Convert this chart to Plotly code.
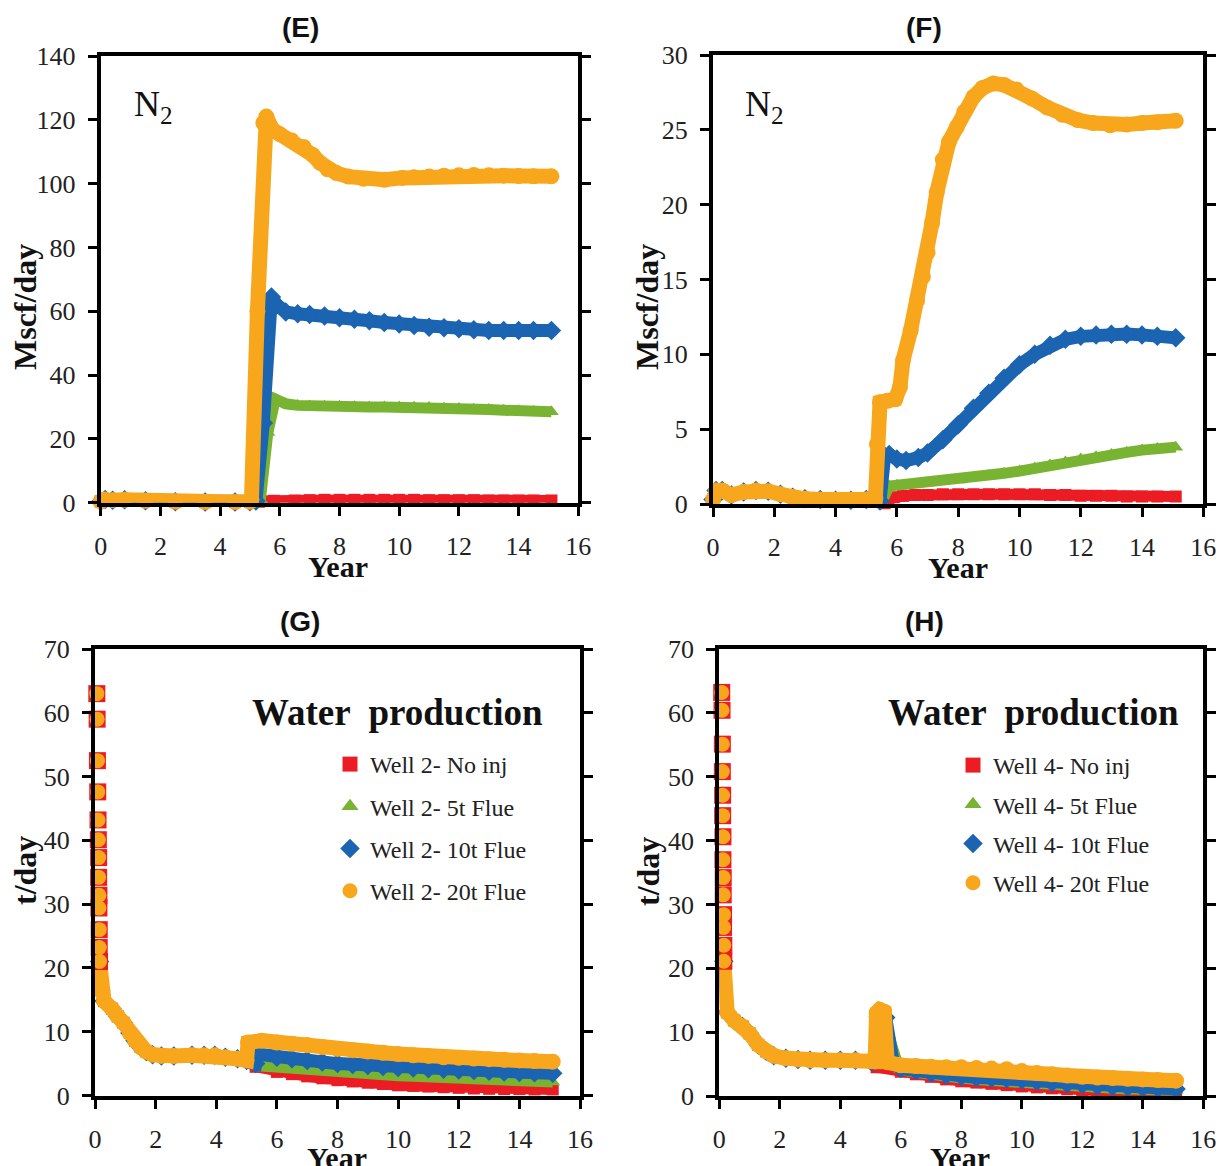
import plotly.graph_objects as go

# ---------------------------------------------------------------- data
# (E) N2 production rate, Mscf/day
E_early_t = [0.0, 0.15, 0.4, 0.8, 1.5, 2.5, 3.5, 4.5, 5.0]
E_early_q = [0.4, 1.0, 0.8, 0.9, 0.6, 0.3, 0.2, 0.2, 0.3]
E_red_t = [5.3, 5.8, 6.5, 7, 7.5, 8, 8.5, 9, 9.5, 10, 10.5, 11, 11.5, 12, 12.5, 13, 13.5, 14, 14.5, 15.1]
E_red_q = [0.3, 0.6, 0.7, 0.8, 0.9, 0.9, 0.9, 0.9, 0.9, 0.9, 0.9, 0.8, 0.8, 0.8, 0.8, 0.7, 0.7, 0.7, 0.7, 0.7]
E_green_t = [5.35, 5.6, 5.85, 6.2, 6.6, 7, 7.5, 8, 8.5, 9, 9.5, 10, 10.5, 11, 11.5, 12, 12.5, 13, 13.5, 14, 14.5, 15.1]
E_green_q = [1, 22, 32.5, 31.0, 30.5, 30.3, 30.2, 30.2, 30.1, 30.0, 30.0, 30.0, 29.9, 29.8, 29.6, 29.5, 29.3, 29.2, 29.0, 28.8, 28.6, 28.5]
E_blue_t = [5.2, 5.45, 5.62, 5.72, 5.9, 6.2, 6.6, 7, 7.5, 8, 8.5, 9, 9.5, 10, 10.5, 11, 11.5, 12, 12.5, 13, 13.5, 14, 14.5, 15.1]
E_blue_q = [0.5, 25, 62, 64.5, 62, 59.8, 59.2, 59.0, 58.5, 58.0, 57.5, 57.0, 56.5, 56.0, 55.5, 55.0, 54.8, 54.5, 54.2, 54.0, 54.0, 54.0, 54.0, 54.0]
E_orange_t = [5.05, 5.25, 5.45, 5.55, 5.75, 6.0, 6.4, 6.8, 7.1, 7.35, 7.6, 7.9, 8.3, 8.8, 9.5, 10.1, 10.5, 11, 11.5, 12, 12.5, 13, 13.5, 14, 14.5, 15.1]
E_orange_q = [1, 60, 119, 121, 117, 115.5, 113.5, 111.5, 109, 106.5, 104.5, 103.3, 102.2, 101.5, 101.2, 101.8, 102.0, 102.2, 102.5, 102.6, 102.7, 102.6, 102.5, 102.4, 102.3, 102.3]

# (F) N2 production rate, Mscf/day
F_early_t = [0.0, 0.1, 0.3, 0.6, 1.0, 1.4, 1.8, 2.2, 2.6, 3.0, 3.5, 4.0, 4.5, 5.0, 5.3]
F_early_q = [0.3, 0.9, 0.9, 0.6, 0.8, 0.9, 0.85, 0.65, 0.45, 0.35, 0.3, 0.25, 0.25, 0.3, 0.4]
F_red_t = [5.6, 5.9, 6.2, 6.6, 7, 7.5, 8, 8.5, 9, 9.5, 10, 10.5, 11, 11.5, 12, 12.5, 13, 13.5, 14, 14.5, 15.1]
F_red_q = [0.05, 0.45, 0.55, 0.6, 0.6, 0.65, 0.65, 0.65, 0.65, 0.65, 0.65, 0.65, 0.6, 0.6, 0.55, 0.55, 0.55, 0.5, 0.5, 0.5, 0.5]
F_green_t = [5.5, 5.75, 6.0, 6.5, 7, 7.5, 8, 8.5, 9, 9.5, 10, 10.5, 11, 11.5, 12, 12.5, 13, 13.5, 14, 14.5, 15.1]
F_green_q = [0.1, 1.2, 1.25, 1.3, 1.4, 1.5, 1.6, 1.75, 1.9, 2.05, 2.2, 2.4, 2.6, 2.8, 3.0, 3.15, 3.3, 3.45, 3.6, 3.7, 3.8]
F_blue_t = [5.45, 5.6, 5.75, 6.0, 6.3, 6.7, 7.0, 7.5, 8.0, 8.5, 9.0, 9.5, 10.0, 10.5, 11.0, 11.5, 12.0, 12.5, 13.0, 13.5, 14.0, 14.5, 15.1]
F_blue_q = [0.2, 3.2, 3.3, 3.0, 2.9, 3.1, 3.4, 4.3, 5.3, 6.4, 7.4, 8.4, 9.3, 10.0, 10.6, 11.0, 11.2, 11.3, 11.35, 11.35, 11.3, 11.2, 11.1]
F_orange_t = [5.35, 5.45, 5.7, 5.95, 6.1, 6.2, 6.45, 6.66, 6.85, 7.0, 7.15, 7.3, 7.5, 7.7, 7.96, 8.2, 8.5, 8.8, 9.15, 9.5, 9.9, 10.4, 10.9, 11.4, 11.9, 12.4, 12.96, 13.5, 14.0, 14.5, 15.1]
F_orange_q = [4.0, 6.8, 6.9, 7.0, 7.8, 9.6, 11.6, 13.6, 15.2, 16.8, 18.8, 20.8, 23.0, 24.2, 25.2, 26.2, 27.2, 27.8, 28.1, 28.0, 27.7, 27.1, 26.5, 26.0, 25.65, 25.45, 25.3, 25.35, 25.45, 25.5, 25.6]

# (G) water production, Well 2, t/day
G_first_t = [0.06, 0.07, 0.08, 0.09, 0.10, 0.11, 0.12, 0.12, 0.13, 0.13, 0.14, 0.14, 0.15]
G_first_q = [63.0, 59.0, 52.5, 47.6, 43.2, 40.1, 37.3, 34.2, 31.4, 29.4, 26.0, 23.2, 21.0]
G_early_t = [0.15, 0.19, 0.3, 0.56, 0.75, 0.94, 1.15, 1.32, 1.5, 1.69, 1.9, 2.19, 2.6, 3.2, 3.6, 3.95, 4.3, 4.7, 5.0]
G_early_q = [21.0, 16.5, 14.8, 13.6, 12.4, 11.4, 9.8, 8.6, 7.6, 6.9, 6.4, 6.2, 6.2, 6.3, 6.3, 6.3, 6.0, 5.75, 5.5]
G_red_t = [5.3, 6.0, 6.5, 7.0, 7.5, 8.0, 8.5, 9.0, 9.5, 10.0, 10.5, 11.0, 11.5, 12.0, 12.5, 13.0, 13.5, 14.0, 14.5, 15.1]
G_red_q = [4.5, 3.7, 3.35, 3.0, 2.7, 2.4, 2.2, 2.0, 1.8, 1.6, 1.5, 1.4, 1.3, 1.2, 1.1, 1.05, 1.0, 1.0, 0.95, 0.95]
G_green_t = [5.3, 6.0, 6.5, 7.0, 7.5, 8.0, 8.5, 9.0, 9.5, 10.0, 10.5, 11.0, 11.5, 12.0, 12.5, 13.0, 13.5, 14.0, 14.5, 15.1]
G_green_q = [4.7, 4.4, 4.2, 4.0, 3.8, 3.6, 3.45, 3.3, 3.2, 3.1, 3.0, 2.9, 2.8, 2.75, 2.6, 2.5, 2.4, 2.3, 2.2, 2.1]
G_blue_t = [5.3, 5.35, 6.0, 6.5, 7.0, 7.5, 8.0, 8.5, 9.0, 9.5, 10.0, 10.5, 11.0, 11.5, 12.0, 12.5, 13.0, 13.5, 14.0, 14.5, 15.1]
G_blue_q = [5.0, 6.5, 6.0, 5.75, 5.5, 5.25, 5.0, 4.85, 4.7, 4.55, 4.4, 4.3, 4.2, 4.1, 4.0, 3.9, 3.8, 3.7, 3.6, 3.55, 3.5]
G_orange_t = [5.05, 5.5, 6.0, 6.5, 7.0, 7.5, 8.0, 8.5, 9.0, 9.5, 10.0, 10.5, 11.0, 11.5, 12.0, 12.5, 13.0, 13.5, 14.0, 14.5, 15.1]
G_orange_q = [8.3, 8.6, 8.3, 8.1, 7.9, 7.6, 7.3, 7.1, 6.9, 6.7, 6.5, 6.3, 6.2, 6.0, 5.9, 5.8, 5.7, 5.6, 5.5, 5.4, 5.3]

# (H) water production, Well 4, t/day
H_first_t = [0.08, 0.09, 0.10, 0.10, 0.11, 0.11, 0.12, 0.12, 0.13, 0.13, 0.14, 0.14, 0.15, 0.15]
H_first_q = [63.2, 60.4, 55.1, 50.8, 47.1, 43.9, 40.6, 37.0, 34.2, 31.5, 28.4, 26.4, 23.6, 21.1]
H_early_t = [0.15, 0.26, 0.5, 0.77, 1.0, 1.29, 1.55, 1.8, 2.2, 2.6, 3.0, 3.5, 4.0, 4.5, 5.0, 5.15]
H_early_q = [21.1, 13.1, 11.8, 10.9, 9.8, 8.0, 7.0, 6.3, 5.9, 5.7, 5.6, 5.6, 5.6, 5.6, 5.5, 5.4]
H_red_t = [5.2, 6.0, 6.5, 7.0, 7.5, 8.0, 8.5, 9.0, 9.5, 10.0, 10.5, 11.0, 11.5, 12.0, 12.5, 13.0, 13.5, 14.0, 14.5, 15.1]
H_red_q = [4.5, 3.8, 3.4, 3.0, 2.6, 2.3, 2.1, 1.9, 1.7, 1.5, 1.35, 1.2, 1.05, 0.9, 0.75, 0.6, 0.5, 0.4, 0.35, 0.3]
H_green_t = [5.3, 5.6, 5.9, 6.0, 6.5, 7.0, 7.5, 8.0, 8.5, 9.0, 9.5, 10.0, 10.5, 11.0, 11.5, 12.0, 12.5, 13.0, 13.5, 14.0, 14.5, 15.1]
H_green_q = [10.0, 9.5, 4.9, 4.1, 3.7, 3.3, 3.0, 2.8, 2.6, 2.4, 2.2, 2.0, 1.85, 1.7, 1.55, 1.4, 1.3, 1.2, 1.1, 1.0, 0.95, 0.9]
H_blue_t = [5.25, 5.5, 5.75, 6.0, 6.5, 7.0, 7.5, 8.0, 8.5, 9.0, 9.5, 10.0, 10.5, 11.0, 11.5, 12.0, 12.5, 13.0, 13.5, 14.0, 14.5, 15.1]
H_blue_q = [12.5, 12.3, 5.2, 4.3, 4.0, 3.6, 3.3, 3.1, 2.9, 2.8, 2.7, 2.5, 2.3, 2.1, 1.9, 1.8, 1.6, 1.5, 1.4, 1.3, 1.2, 1.1]
H_orange_t = [5.2, 5.3, 5.45, 5.55, 6.0, 6.5, 7.0, 7.5, 8.0, 8.5, 9.0, 9.5, 10.0, 10.5, 11.0, 11.5, 12.0, 12.5, 13.0, 13.5, 14.0, 14.5, 15.1]
H_orange_q = [13.0, 13.5, 13.2, 5.3, 4.8, 4.7, 4.6, 4.5, 4.5, 4.4, 4.3, 4.2, 3.9, 3.6, 3.4, 3.2, 3.0, 2.9, 2.8, 2.7, 2.6, 2.5, 2.4]

case_names = ["No inj", "5t Flue", "10t Flue", "20t Flue"]
year_ticks = [0, 2, 4, 6, 8, 10, 12, 14, 16]

# ---------------------------------------------------------------- styling
W, H = 1221, 1166
COL = {"red": "#EC1C24", "green": "#78B432", "blue": "#1A64B2", "orange": "#F8A71C"}
SYM = {"red": "square", "green": "triangle-up", "blue": "diamond", "orange": "circle"}
MSIZE = {"red": 12, "green": 13, "blue": 15, "orange": 16}
LW = {"red": 11, "green": 11, "blue": 13, "orange": 15}
SERIF = "Liberation Serif"
SANS = "Liberation Sans"


def px(x):
    return x / W


def py(y):
    return 1 - y / H


fig = go.Figure()


def band(t, q, key, xa, ya):
    fig.add_trace(go.Scatter(
        x=t, y=q, xaxis=xa, yaxis=ya, mode="lines+markers",
        line=dict(color=COL[key], width=LW[key]),
        marker=dict(symbol=SYM[key], size=MSIZE[key], color=COL[key], line=dict(width=0)),
        cliponaxis=False, showlegend=False, hoverinfo="skip"))


def dots(t, q, key, xa, ya, size):
    fig.add_trace(go.Scatter(
        x=t, y=q, xaxis=xa, yaxis=ya, mode="markers",
        marker=dict(symbol=SYM[key], size=size, color=COL[key], line=dict(width=0)),
        cliponaxis=False, showlegend=False, hoverinfo="skip"))


# (E)
for key, t, q in [("red", E_red_t, E_red_q), ("green", E_green_t, E_green_q),
                  ("blue", E_blue_t, E_blue_q), ("orange", E_orange_t, E_orange_q)]:
    band(E_early_t + t, E_early_q + q, key, "x", "y")

# (F)
for key, t, q in [("red", F_red_t, F_red_q), ("green", F_green_t, F_green_q),
                  ("blue", F_blue_t, F_blue_q), ("orange", F_orange_t, F_orange_q)]:
    band(F_early_t + t, F_early_q + q, key, "x2", "y2")

# (G) and (H): first-days points stand apart, then the decline band
for first_t, first_q, early_t, early_q, series, xa, ya in [
    (G_first_t, G_first_q, G_early_t, G_early_q,
     [("red", G_red_t, G_red_q), ("green", G_green_t, G_green_q),
      ("blue", G_blue_t, G_blue_q), ("orange", G_orange_t, G_orange_q)], "x3", "y3"),
    (H_first_t, H_first_q, H_early_t, H_early_q,
     [("red", H_red_t, H_red_q), ("green", H_green_t, H_green_q),
      ("blue", H_blue_t, H_blue_q), ("orange", H_orange_t, H_orange_q)], "x4", "y4"),
]:
    for key, t, q in series:
        band(early_t + t, early_q + q, key, xa, ya)
    dots(first_t, first_q, "red", xa, ya, 17)
    dots(first_t, first_q, "orange", xa, ya, 15)

# legend entries
for legend_id, well, xa, ya in [("legend", "Well 2- ", "x3", "y3"), ("legend2", "Well 4- ", "x4", "y4")]:
    for key, case in zip(["red", "green", "blue", "orange"], case_names):
        fig.add_trace(go.Scatter(
            x=[None], y=[None], xaxis=xa, yaxis=ya, mode="markers", name=well + case,
            marker=dict(symbol=SYM[key], size=15, color=COL[key]),
            legend=legend_id, legendgroup=legend_id + key, showlegend=True))

# ---------------------------------------------------------------- axes
panels = {
    # id: (x-domain px, y-domain px (bottom, top), y max, y step)
    "1": ((100.7, 578.3), (502.7, 56), 140, 20),
    "2": ((713, 1203.3), (504, 55), 30, 5),
    "3": ((95, 580), (1095.5, 649), 70, 10),
    "4": ((719.3, 1203.3), (1096, 649), 70, 10),
}
axis_common = dict(showline=True, linewidth=4, linecolor="black", ticks="outside",
                   ticklen=9, tickwidth=3, tickcolor="black", showgrid=False,
                   zeroline=False, automargin=False,
                   tickfont=dict(family=SERIF, size=26, color="#222"))
layout_axes = {}
for k, ((x0, x1), (yb, yt), ymax, ystep) in panels.items():
    sfx = "" if k == "1" else k
    layout_axes["xaxis" + sfx] = dict(
        axis_common, domain=[px(x0), px(x1)], range=[0, 16], tickvals=year_ticks,
        anchor="y" + sfx, mirror=True, ticklabelstandoff=8)
    layout_axes["yaxis" + sfx] = dict(
        axis_common, domain=[py(yb), py(yt)], range=[0, ymax], dtick=ystep,
        anchor="x" + sfx, mirror="ticks", ticklabelstandoff=7)

# ---------------------------------------------------------------- text
ann = []


def text(x, y, s, size, family=SERIF, bold=False, angle=0):
    ann.append(dict(x=px(x), y=py(y), xref="paper", yref="paper", text=f"<b>{s}</b>" if bold else s,
                    showarrow=False, xanchor="center", yanchor="middle", textangle=angle,
                    font=dict(family=family, size=size, color="#111")))


for lab, x, y in [("(E)", 300, 27), ("(F)", 924, 27), ("(G)", 300, 621), ("(H)", 924, 621)]:
    text(x, y, lab, 28, family=SANS, bold=True)
for x, y in [(338, 566), (958, 567), (337, 1157), (960, 1157)]:
    text(x, y, "Year", 30, bold=True)
text(25, 307, "Mscf/day", 32, bold=True, angle=-90)
text(647, 307, "Mscf/day", 32, bold=True, angle=-90)
text(25, 871, "t/day", 32, bold=True, angle=-90)
text(648, 871, "t/day", 32, bold=True, angle=-90)
text(153, 107, "N<sub>2</sub>", 36)
text(764, 107, "N<sub>2</sub>", 36)
text(397, 712, "Water  production", 37, bold=True)
text(1033, 712, "Water  production", 37, bold=True)

legend_style = dict(xanchor="left", yanchor="top", bgcolor="rgba(0,0,0,0)",
                    font=dict(family=SERIF, size=24, color="#222"), itemsizing="trace")

fig.update_layout(
    width=W, height=H, margin=dict(l=0, r=0, t=0, b=0), autosize=False,
    paper_bgcolor="white", plot_bgcolor="white", template="none",
    font=dict(family=SERIF),
    annotations=ann,
    legend=dict(legend_style, x=px(330), y=py(742), tracegroupgap=8),
    legend2=dict(legend_style, x=px(953), y=py(743), tracegroupgap=5),
    **layout_axes,
)

fig.write_html("out.html")
